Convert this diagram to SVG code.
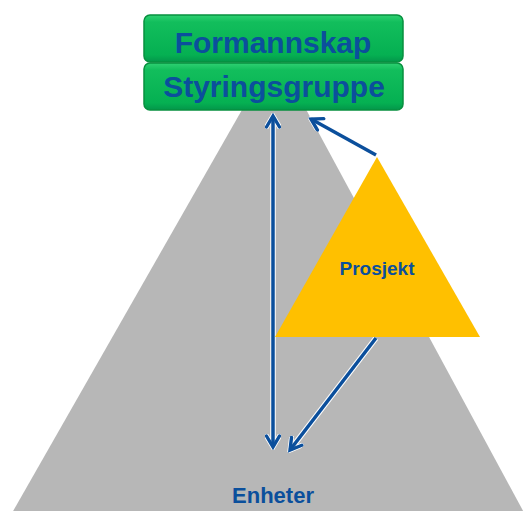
<svg xmlns="http://www.w3.org/2000/svg" width="526" height="511" viewBox="0 0 526 511">
  <defs>
    <linearGradient id="gbox" x1="0" y1="0" x2="0" y2="1">
      <stop offset="0" stop-color="#2fd172"/>
      <stop offset="0.15" stop-color="#12be5c"/>
      <stop offset="0.85" stop-color="#05b052"/>
      <stop offset="1" stop-color="#03964a"/>
    </linearGradient>
    <marker id="ab" viewBox="0 0 16 16" refX="13" refY="8" markerWidth="16" markerHeight="16" markerUnits="userSpaceOnUse" orient="auto-start-reverse">
      <path d="M2,1.5 L13,8 L2,14.5" fill="none" stroke="#0b4f9c" stroke-width="3.4" stroke-linecap="round" stroke-linejoin="miter"/>
    </marker>
    <marker id="aw" viewBox="0 0 16 16" refX="13" refY="8" markerWidth="16" markerHeight="16" markerUnits="userSpaceOnUse" orient="auto-start-reverse">
      <path d="M2,1.5 L13,8 L2,14.5" fill="none" stroke="#ffffff" stroke-width="5" stroke-linecap="round"/>
    </marker>
  </defs>
  <style>
    .t { font-family: "Liberation Sans", Arial, sans-serif; font-weight: bold; fill: #0b4f9c; text-anchor: middle; }
    .box { fill: url(#gbox); stroke: #07903f; stroke-width: 1.5; }
    .cw { fill: none; stroke: #ffffff; stroke-width: 5.5; marker-end: url(#aw); }
    .cb { fill: none; stroke: #0b4f9c; stroke-width: 3.5; marker-end: url(#ab); }
  </style>

  <g id="enheter">
    <polygon points="275,52 528,520 8,520" fill="#b7b7b7"/>
    <text class="t" x="273" y="503" font-size="22">Enheter</text>
  </g>

  <g id="connectors">
    <path class="cw" d="M273,116 L273,447" style="marker-start:url(#aw)"/>
    <path class="cb" d="M273,116 L273,447" style="marker-start:url(#ab)"/>
    <path class="cw" d="M376,155 L311,119"/>
    <path class="cb" d="M376,155 L311,119"/>
    <path class="cw" d="M376,338 L290,450"/>
    <path class="cb" d="M376,338 L290,450"/>
  </g>

  <g id="prosjekt">
    <polygon points="377,157 480,337 275,337" fill="#ffc000"/>
    <text class="t" x="377" y="275" font-size="19">Prosjekt</text>
  </g>

  <g id="formannskap">
    <rect class="box" x="144" y="15" width="259" height="47" rx="6"/>
    <text class="t" x="273" y="53" font-size="30">Formannskap</text>
  </g>

  <g id="styringsgruppe">
    <rect class="box" x="144" y="63" width="259" height="47" rx="6"/>
    <text class="t" x="274" y="97" font-size="30">Styringsgruppe</text>
  </g>
</svg>
